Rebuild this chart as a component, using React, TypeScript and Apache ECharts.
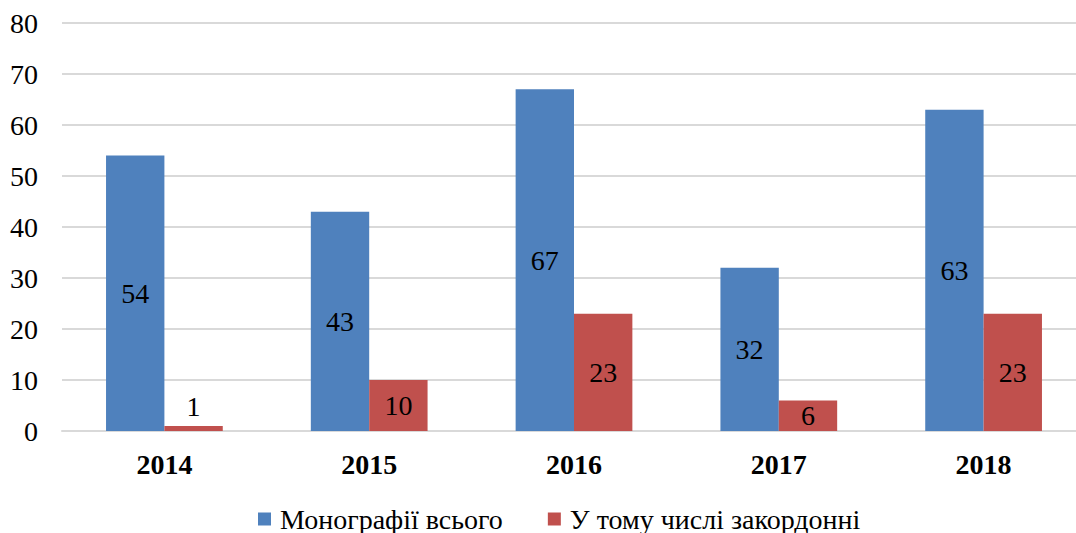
import React, { useEffect, useRef } from "react";
import * as echarts from "echarts";

const years = ["2014", "2015", "2016", "2017", "2018"];
const totalMonographs = [54, 43, 67, 32, 63];
const foreignMonographs = [1, 10, 23, 6, 23];
const seriesNames = ["Монографії всього", "У тому числі закордонні"];

const FONT = "Times New Roman, Liberation Serif, serif";

export default function App() {
  const ref = useRef<HTMLDivElement>(null);
  useEffect(() => {
    if (!ref.current) return;
    const chart = echarts.init(ref.current, undefined, { renderer: "svg" });
    const labelBase = {
      show: true,
      position: "inside",
      color: "#000",
      fontSize: 28,
      fontFamily: FONT,
    };
    chart.setOption({
      animation: false,
      textStyle: { fontFamily: FONT },
      grid: {
        left: 62,
        top: 23,
        width: 1024,
        height: 408,
        containLabel: false,
        outerBoundsMode: "none",
      },
      legend: {
        left: 258,
        top: 505,
        padding: 0,
        itemWidth: 13,
        itemHeight: 13,
        itemGap: 45,
        icon: "rect",
        textStyle: {
          fontSize: 28,
          fontFamily: FONT,
          color: "#000",
          padding: [0, 0, 0, 4],
        },
        data: seriesNames,
      },
      xAxis: {
        type: "category",
        data: years,
        axisLine: { lineStyle: { color: "#D9D9D9", width: 2 } },
        axisTick: { show: false },
        axisLabel: {
          fontSize: 28,
          fontWeight: "bold",
          fontFamily: FONT,
          color: "#000",
          margin: 19,
        },
      },
      yAxis: {
        type: "value",
        min: 0,
        max: 80,
        interval: 10,
        axisLine: { show: false },
        axisTick: { show: false },
        splitLine: { lineStyle: { color: "#D9D9D9", width: 2 } },
        axisLabel: {
          fontSize: 28,
          fontFamily: FONT,
          color: "#000",
          margin: 24,
        },
      },
      series: [
        {
          name: seriesNames[0],
          type: "bar",
          data: totalMonographs,
          barGap: "0%",
          barCategoryGap: "43%",
          itemStyle: { color: "#4F81BD" },
          label: labelBase,
        },
        {
          name: seriesNames[1],
          type: "bar",
          data: foreignMonographs.map((v) =>
            v < 3
              ? { value: v, label: { position: "top", distance: 5 } }
              : v
          ),
          barGap: "0%",
          barCategoryGap: "43%",
          itemStyle: { color: "#C0504D" },
          label: labelBase,
        },
      ],
    });
    return () => chart.dispose();
  }, []);
  return (
    <div
      ref={ref}
      style={{ position: "absolute", left: 0, top: 0, width: 1076, height: 533 }}
    />
  );
}
